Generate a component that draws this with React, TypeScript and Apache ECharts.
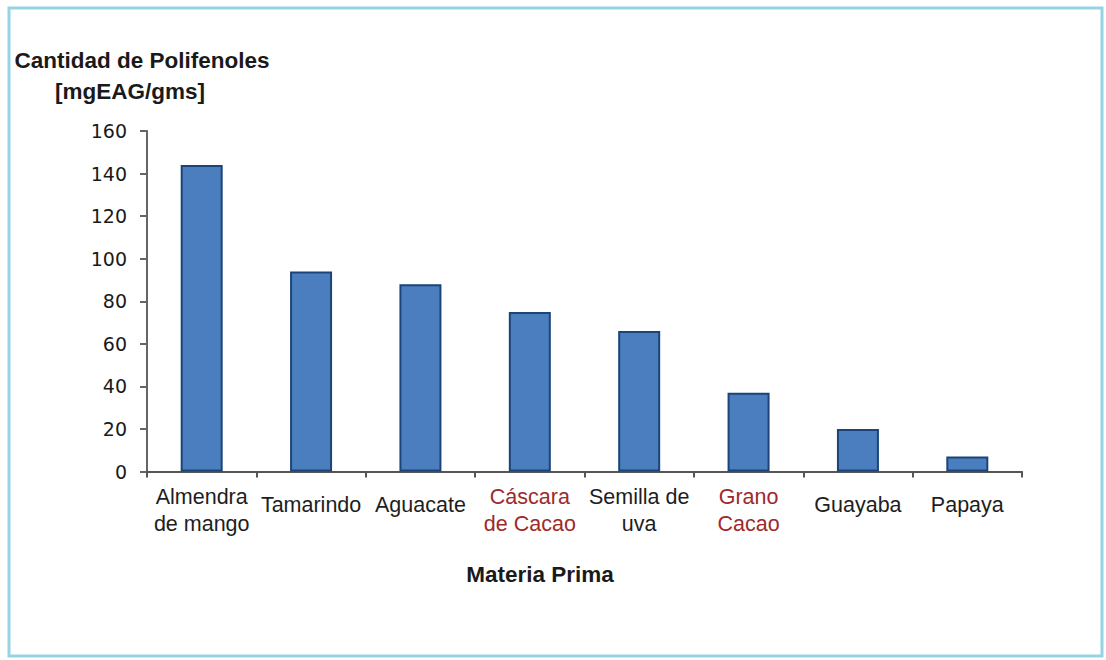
import React, { useEffect, useRef } from "react";
import * as echarts from "echarts";

const categories = [
  "Almendra\nde mango",
  "Tamarindo",
  "Aguacate",
  "Cáscara\nde Cacao",
  "Semilla de\nuva",
  "Grano\nCacao",
  "Guayaba",
  "Papaya",
];
const highlighted = ["Cáscara\nde Cacao", "Grano\nCacao"];
const values = [144, 94, 88, 75, 66, 37, 20, 7];
const yTitle = ["Cantidad de Polifenoles", "[mgEAG/gms]"];
const xTitle = "Materia Prima";

export default function App() {
  const ref = useRef<HTMLDivElement>(null);
  useEffect(() => {
    if (!ref.current) return;
    const chart = echarts.init(ref.current, null, { renderer: "svg" });
    const catData = categories.map((c) => {
      const single = !c.includes("\n");
      return {
        value: c,
        textStyle: {
          color: highlighted.includes(c) ? "#9e2a2b" : "#1e1e1e",
          padding: single ? [8, 0, 0, 0] : [0, 0, 0, 0],
        },
      };
    });
    const titleStyle = {
      fontSize: 22.5,
      fontWeight: "bold",
      fontFamily: "Liberation Sans, Arial, sans-serif",
      fill: "#1a1a1a",
      align: "center",
      verticalAlign: "middle",
    };
    chart.setOption({
      animation: false,
      backgroundColor: "#ffffff",
      grid: { left: 147, right: 84, top: 131, bottom: 188.5 },
      xAxis: {
        type: "category",
        data: catData,
        boundaryGap: true,
        axisLine: { show: true, lineStyle: { color: "#555", width: 2 } },
        axisTick: { show: true, alignWithLabel: false, length: 6, lineStyle: { color: "#555", width: 2 } },
        axisLabel: {
          interval: 0,
          margin: 12,
          fontSize: 21.5,
          lineHeight: 27,
          fontFamily: "Liberation Sans, Arial, sans-serif",
          color: "#1e1e1e",
        },
      },
      yAxis: {
        type: "value",
        min: 0,
        max: 160,
        interval: 20,
        axisLine: { show: true, lineStyle: { color: "#666", width: 2 } },
        axisTick: { show: true, length: 7, lineStyle: { color: "#666", width: 2 } },
        splitLine: { show: false },
        axisLabel: {
          margin: 20,
          fontSize: 19,
          fontFamily: "DejaVu Sans, Verdana, sans-serif",
          color: "#1a1a1a",
        },
      },
      series: [
        {
          type: "bar",
          data: values,
          barWidth: 42,
          itemStyle: { color: "#4a7ebf", borderColor: "#1c4478", borderWidth: 2 },
        },
      ],
      graphic: [
        {
          type: "rect",
          shape: { x: 9, y: 8, width: 1093, height: 648 },
          style: { fill: "none", stroke: "#96d4e4", lineWidth: 3 },
          silent: true,
        },
        { type: "text", x: 142, y: 60, style: { ...titleStyle, text: yTitle[0] } },
        { type: "text", x: 130, y: 91, style: { ...titleStyle, text: yTitle[1] } },
        { type: "text", x: 540, y: 574, style: { ...titleStyle, text: xTitle } },
      ],
    });
    return () => chart.dispose();
  }, []);
  return (
    <div
      ref={ref}
      style={{ position: "fixed", left: 0, top: 0, width: 1106, height: 660, background: "#fff" }}
    />
  );
}
